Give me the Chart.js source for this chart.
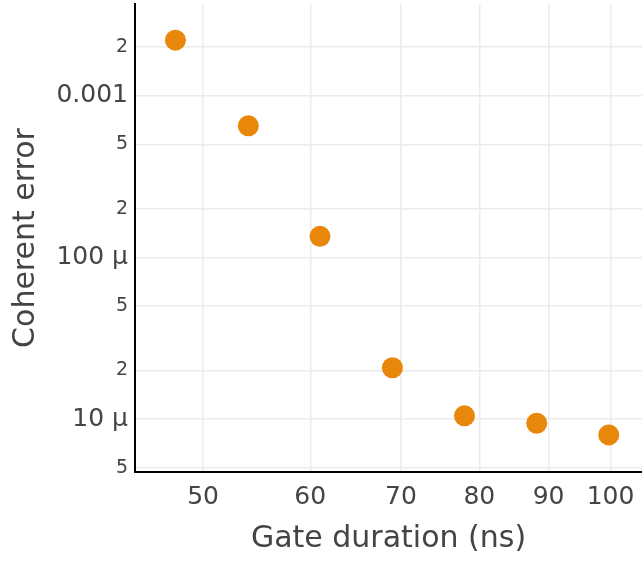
<!DOCTYPE html>
<html>
<head>
<meta charset="utf-8">
<script src="https://cdn.jsdelivr.net/npm/chart.js@4.4.1/dist/chart.umd.min.js"></script>
<style>
  html, body { margin: 0; padding: 0; background: #fff; }
  #wrap { width: 642px; height: 561px; }
</style>
</head>
<body>
<div id="wrap"><canvas id="chart1" width="642" height="561"></canvas></div>
<script>
// gate duration (ns) vs coherent error
var gateDuration = [47.7, 54, 61, 69, 78, 88.2, 99.7];
var coherentError = [2.2e-3, 6.5e-4, 1.35e-4, 2.08e-5, 1.05e-5, 9.45e-6, 8.0e-6];

var xTicks = [50, 60, 70, 80, 90, 100];
var xTickLabels = ['50', '60', '70', '80', '90', '100'];
var yTicks = [5e-6, 1e-5, 2e-5, 5e-5, 1e-4, 2e-4, 5e-4, 1e-3, 2e-3];
var yTickLabels = ['5', '10 μ', '2', '5', '100 μ', '2', '5', '0.001', '2'];
var yMajor = [1e-5, 1e-4, 1e-3];

var textColor = '#444';
var gridColor = '#ebebeb';
var fontFamily = '"DejaVu Sans", Verdana, sans-serif';

var points = gateDuration.map(function(x, i) {
  return { x: x, y: coherentError[i] };
});

// no extra room for half-labels at the axis ends
function noEdgePadding(scale) {
  scale.paddingTop = 0;
  scale.paddingBottom = 0;
  scale.paddingLeft = 0;
  scale.paddingRight = 0;
}

var ctx = document.getElementById('chart1').getContext('2d');

var myChart = new Chart(ctx, {
  type: 'scatter',
  data: {
    datasets: [{
      data: points,
      backgroundColor: '#e8870a',
      borderWidth: 0,
      pointRadius: 10.5,
      pointHoverRadius: 10.5
    }]
  },
  options: {
    responsive: false,
    animation: false,
    layout: {
      autoPadding: false,
      padding: { top: 4, right: 0, left: 0, bottom: 0 }
    },
    plugins: {
      legend: { display: false },
      tooltip: { enabled: false }
    },
    scales: {
      x: {
        type: 'logarithmic',
        min: 44.53,
        max: 105.5,
        afterBuildTicks: function(scale) {
          scale.ticks = xTicks.map(function(v) { return { value: v }; });
        },
        afterFit: function(scale) {
          scale.height = 89;
          noEdgePadding(scale);
        },
        grid: { color: gridColor, lineWidth: 1.5, drawTicks: false },
        border: { color: '#000', width: 2 },
        ticks: {
          autoSkip: false,
          maxRotation: 0,
          padding: 10,
          color: textColor,
          font: { family: fontFamily, size: 25 },
          callback: function(value) {
            var i = xTicks.indexOf(value);
            return i >= 0 ? xTickLabels[i] : '';
          }
        },
        title: {
          display: true,
          text: 'Gate duration (ns)',
          color: textColor,
          font: { family: fontFamily, size: 30 },
          padding: { top: 0, bottom: 4 }
        }
      },
      y: {
        type: 'logarithmic',
        min: 4.72e-6,
        max: 3.68e-3,
        afterBuildTicks: function(scale) {
          scale.ticks = yTicks.map(function(v) { return { value: v }; });
        },
        afterFit: function(scale) {
          scale.width = 135;
          noEdgePadding(scale);
        },
        grid: { color: gridColor, lineWidth: 1.5, drawTicks: false },
        border: { color: '#000', width: 2 },
        ticks: {
          autoSkip: false,
          padding: 7,
          color: textColor,
          font: function(c) {
            var major = c.tick && yMajor.indexOf(c.tick.value) >= 0;
            return { family: fontFamily, size: major ? 25 : 19 };
          },
          callback: function(value) {
            var i = yTicks.indexOf(value);
            return i >= 0 ? yTickLabels[i] : '';
          }
        },
        title: {
          display: true,
          text: 'Coherent error',
          color: textColor,
          font: { family: fontFamily, size: 30 },
          padding: { top: 8, bottom: 0 }
        }
      }
    }
  }
});
</script>
</body>
</html>
